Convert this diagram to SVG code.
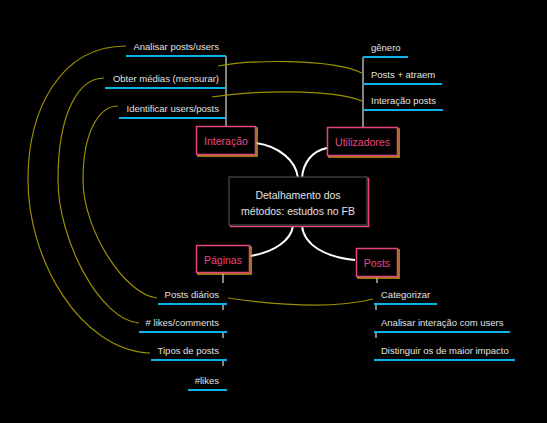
<svg xmlns="http://www.w3.org/2000/svg" width="547" height="423" viewBox="0 0 547 423">
<style>
.lbl{font-family:"Liberation Sans",Arial,sans-serif;font-size:9.5px;fill:#e2e2e2}
.bx{font-family:"Liberation Sans",Arial,sans-serif;font-size:10.5px;fill:#e8457f;text-anchor:middle}
.ttl{font-family:"Liberation Sans",Arial,sans-serif;font-size:10.5px;fill:#e2e2e2;text-anchor:middle}
.ul{stroke:#0fb2e6;stroke-width:2;fill:none}
.vl{stroke:#b0b0b0;stroke-width:1.5;fill:none}
.yc{stroke:#9a8f00;stroke-width:1.2;fill:none}
.wc{stroke:#ffffff;stroke-width:2;fill:none}
.box{fill:#000;stroke:#e8457f;stroke-width:1.5}
.sh{fill:none;stroke:#c9a21c;stroke-width:1.5}
</style>
<rect width="547" height="423" fill="#000"/>
<g id="connectors">
<path class="wc" d="M256,143 C278,146 296,160 298,178"/>
<path class="wc" d="M327,148 C312,151 303,163 302,178"/>
<path class="wc" d="M250,256 C275,252 291,240 293,226"/>
<path class="wc" d="M355,260 C325,257 304,245 302,226"/>
<path class="vl" d="M226,56 V126"/>
<path class="vl" d="M363,57 V127"/>
<path class="vl" d="M223,273 V283 M223,304 V310 M223,332 V338 M223,360 V366"/>
<path class="vl" d="M377,277 V283 M376,304 V310 M376,332 V338"/>
<path class="yc" d="M126,46 C60,46 28,110 28,180 C28,260 80,350 150,353"/>
<path class="yc" d="M104,78 C80,78 58,110 58,180 C58,240 100,320 139,323"/>
<path class="yc" d="M118,106 C100,106 83,130 83,180 C83,230 125,295 157,298"/>
<path class="yc" d="M218,66 C250,60 330,58 362,73"/>
<path class="yc" d="M212,97 C250,91 330,88 362,101"/>
<path class="yc" d="M228,298 C270,304 330,310 373,299"/>
</g>
<g id="center">
<rect x="230.5" y="178.5" width="138" height="48" fill="none" stroke="#e8457f" stroke-width="1.5"/>
<rect x="229" y="177" width="138" height="48" fill="#000" stroke="#4a4a4a" stroke-width="1.2"/>
<text class="ttl" x="298" y="198.5">Detalhamento dos</text>
<text class="ttl" x="298" y="215">métodos: estudos no FB</text>
</g>
<g id="interacao">
<rect class="sh" x="198" y="128" width="59" height="28"/>
<rect class="box" x="196.5" y="126.5" width="59" height="28"/>
<text class="bx" x="226" y="145">Interação</text>
</g>
<g id="utilizadores">
<rect class="sh" x="329" y="129" width="70" height="28"/>
<rect class="box" x="327.5" y="127.5" width="70" height="28"/>
<text class="bx" x="362.5" y="146">Utilizadores</text>
</g>
<g id="paginas">
<rect class="sh" x="198" y="247" width="53" height="27"/>
<rect class="box" x="196.5" y="245.5" width="53" height="27"/>
<text class="bx" x="223" y="263.5">Páginas</text>
</g>
<g id="posts">
<rect class="sh" x="358" y="250" width="41" height="28"/>
<rect class="box" x="356.5" y="248.5" width="41" height="28"/>
<text class="bx" x="377" y="267">Posts</text>
</g>
<g id="analisar-posts-users"><text class="lbl" x="219" y="49.5" text-anchor="end">Analisar posts/users</text><path class="ul" d="M126,56 H226"/></g>
<g id="obter-medias"><text class="lbl" x="219" y="81.5" text-anchor="end">Obter médias (mensurar)</text><path class="ul" d="M105,88 H226"/></g>
<g id="identificar"><text class="lbl" x="219" y="111.5" text-anchor="end">Identificar users/posts</text><path class="ul" d="M119,118 H226"/></g>
<g id="genero"><text class="lbl" x="371" y="51">gênero</text><path class="ul" d="M363,57 H408"/></g>
<g id="posts-atraem"><text class="lbl" x="371" y="77.5">Posts + atraem</text><path class="ul" d="M363,84 H442"/></g>
<g id="interacao-posts"><text class="lbl" x="371" y="103.5">Interação posts</text><path class="ul" d="M363,110 H443"/></g>
<g id="posts-diarios"><text class="lbl" x="219" y="298" text-anchor="end">Posts diários</text><path class="ul" d="M158,304 H227"/></g>
<g id="likes-comments"><text class="lbl" x="219" y="325.5" text-anchor="end"># likes/comments</text><path class="ul" d="M139,332 H227"/></g>
<g id="tipos-de-posts"><text class="lbl" x="219" y="353.5" text-anchor="end">Tipos de posts</text><path class="ul" d="M151,360 H227"/></g>
<g id="likes"><text class="lbl" x="219" y="383.5" text-anchor="end">#likes</text><path class="ul" d="M188,390 H227"/></g>
<g id="categorizar"><text class="lbl" x="381" y="297.5">Categorizar</text><path class="ul" d="M374,304 H437"/></g>
<g id="analisar-interacao"><text class="lbl" x="381" y="325.5">Analisar interação com users</text><path class="ul" d="M374,332 H510"/></g>
<g id="distinguir"><text class="lbl" x="381" y="353.5">Distinguir os de maior impacto</text><path class="ul" d="M374,360 H515"/></g>
</svg>
